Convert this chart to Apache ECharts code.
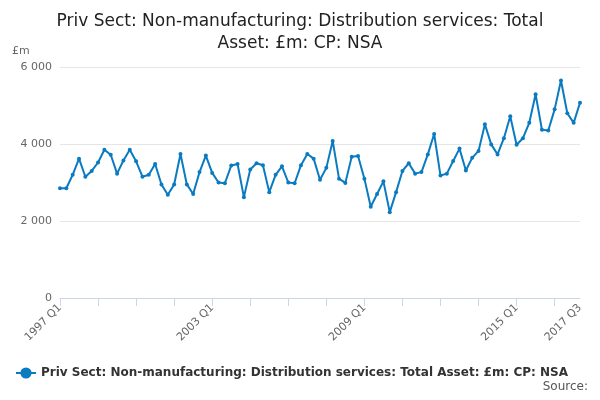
<!DOCTYPE html>
<html><head><meta charset="utf-8">
<script src="https://cdn.jsdelivr.net/npm/echarts@6/dist/echarts.min.js"></script>
<style>html,body{margin:0;padding:0}#c{width:600px;height:400px}</style>
</head><body><div id="c"></div>
<script>
const years = [];
for (let y = 1997; y <= 2017; y++) years.push(y);
const categories = [];
years.forEach(y => ['Q1','Q2','Q3','Q4'].forEach(q => categories.push(y + ' ' + q)));
categories.splice(83);

const values = [
  2850, 2850, 3200, 3620, 3150, 3300, 3520, 3850, 3720, 3230, 3570, 3850,
  3550, 3150, 3200, 3480, 2950, 2680, 2950, 3740, 2950, 2700, 3270, 3700,
  3250, 3000, 2980, 3440, 3480, 2620, 3340, 3500, 3450, 2750, 3200, 3420,
  3000, 2980, 3450, 3740, 3620, 3070, 3380, 4080, 3100, 2990, 3670, 3690,
  3100, 2370, 2700, 3030, 2230, 2750, 3300, 3500, 3230, 3270, 3730, 4260,
  3180, 3230, 3560, 3880, 3310, 3640, 3820, 4510, 3990, 3730, 4150, 4720,
  3980, 4150, 4550, 5290, 4370, 4350, 4900, 5650, 4800, 4550, 5070
];
const shownLabels = ['1997 Q1', '2003 Q1', '2009 Q1', '2015 Q1', '2017 Q3'];
const seriesName = 'Priv Sect: Non-manufacturing: Distribution services: Total Asset: £m: CP: NSA';

const chart = echarts.init(document.getElementById('c'));
chart.setOption({
  title: {
    text: 'Priv Sect: Non-manufacturing: Distribution services: Total\nAsset: £m: CP: NSA',
    left: 'center', top: 6,
    textStyle: { fontFamily: 'DejaVu Sans', fontSize: 17, fontWeight: 'normal', color: '#222', lineHeight: 22 }
  },
  graphic: [
    { type: 'text', left: 12, top: 46, style: { text: '£m', font: '11px DejaVu Sans', fill: '#666' } },
    { type: 'text', right: 12, top: 381, style: { text: 'Source:', font: '12px DejaVu Sans', fill: '#555' } }
  ],
  legend: {
    bottom: 16, left: 10, itemWidth: 20,
    textStyle: { fontFamily: 'DejaVu Sans', fontSize: 12, fontWeight: 'bold', color: '#333' }
  },
  grid: { left: 60, right: 20, top: 67, bottom: 102 },
  xAxis: {
    type: 'category', data: categories, boundaryGap: false,
    axisLine: { lineStyle: { color: '#ccd6eb' } },
    axisTick: { interval: 5, lineStyle: { color: '#ccd6eb' }, length: 8 },
    axisLabel: {
      interval: (i, v) => shownLabels.includes(v),
      rotate: 45, color: '#666', fontFamily: 'DejaVu Sans', fontSize: 11
    }
  },
  yAxis: {
    type: 'value', min: 0, max: 6000, interval: 2000,
    axisLabel: { color: '#666', fontFamily: 'DejaVu Sans', fontSize: 11, formatter: v => v === 0 ? '0' : (v / 1000) + ' 000' },
    splitLine: { lineStyle: { color: '#e6e6e6' } }
  },
  series: [{
    name: seriesName, type: 'line', data: values,
    symbol: 'circle', symbolSize: 4, showAllSymbol: true,
    itemStyle: { color: '#0a7bc0' }, lineStyle: { width: 2, color: '#0a7bc0' }
  }]
});
</script></body></html>
